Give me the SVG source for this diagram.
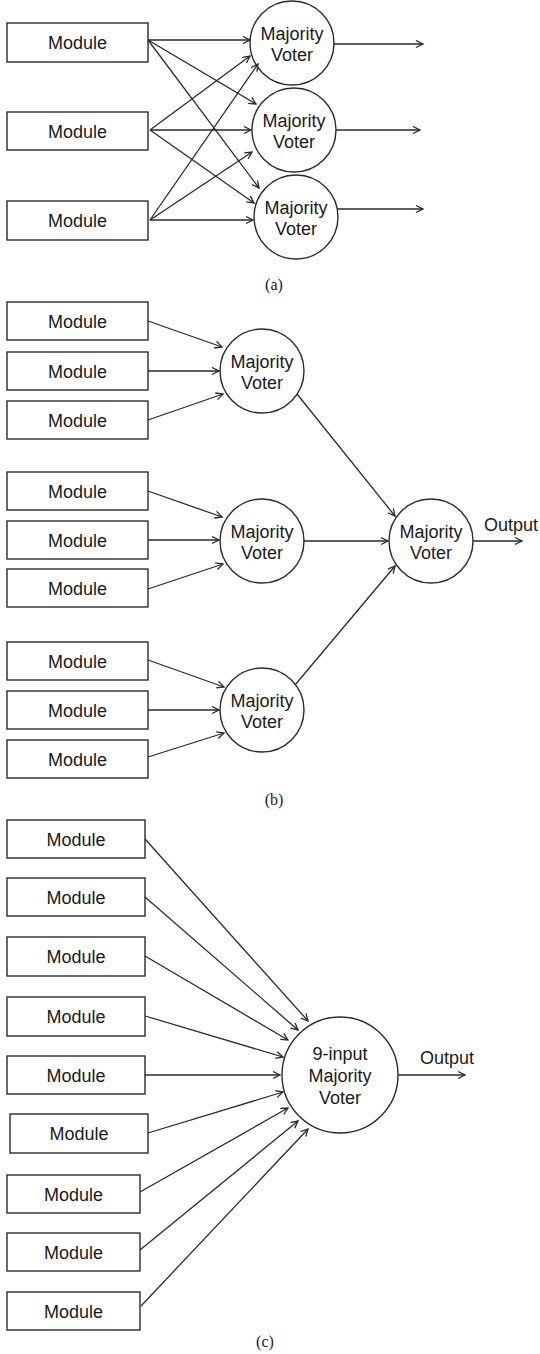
<svg xmlns="http://www.w3.org/2000/svg" width="540" height="1354" viewBox="0 0 540 1354">
<style>
.box{fill:#fff;stroke:#2a2a2a;stroke-width:1.4}
.vot{fill:#fff;stroke:#2a2a2a;stroke-width:1.4}
.t{font-family:"Liberation Sans",Arial,sans-serif;font-size:18px;fill:#1a1a1a;text-anchor:middle}
.tl{font-family:"Liberation Sans",Arial,sans-serif;font-size:18px;fill:#1a1a1a}
.cap{font-family:"Liberation Serif","Times New Roman",serif;font-size:16px;fill:#1a1a1a;text-anchor:middle}
.c line{stroke:#2a2a2a;stroke-width:1.3;fill:none;marker-end:url(#ah)}
</style>
<defs>
<marker id="ah" markerUnits="userSpaceOnUse" markerWidth="10" markerHeight="10" refX="8" refY="4" orient="auto">
<path d="M1,0.5 L8,4 L1,7.5" fill="none" stroke="#2a2a2a" stroke-width="1.3"/>
</marker>
</defs>
<rect width="540" height="1354" fill="#fff"/>

<!-- (a) -->
<g id="a-m1"><rect class="box" x="7" y="23" width="141" height="39"/><text class="t" x="77.5" y="49">Module</text></g>
<g id="a-m2"><rect class="box" x="7" y="112" width="141" height="38"/><text class="t" x="77.5" y="137.5">Module</text></g>
<g id="a-m3"><rect class="box" x="7" y="201" width="141" height="39"/><text class="t" x="77.5" y="227">Module</text></g>
<g id="a-v1"><circle class="vot" cx="292" cy="43" r="42"/><text class="t" x="292" y="39.5">Majority</text><text class="t" x="292" y="60.5">Voter</text></g>
<g id="a-v2"><circle class="vot" cx="294" cy="130" r="42"/><text class="t" x="294" y="126.5">Majority</text><text class="t" x="294" y="147.5">Voter</text></g>
<g id="a-v3"><circle class="vot" cx="296" cy="217" r="42"/><text class="t" x="296" y="213.5">Majority</text><text class="t" x="296" y="234.5">Voter</text></g>
<text class="cap" x="274" y="290">(a)</text>

<!-- (b) -->
<g id="b-m1"><rect class="box" x="7" y="302" width="141" height="38"/><text class="t" x="77.5" y="327.5">Module</text></g>
<g id="b-m2"><rect class="box" x="7" y="352" width="141" height="38"/><text class="t" x="77.5" y="377.5">Module</text></g>
<g id="b-m3"><rect class="box" x="7" y="401" width="141" height="38"/><text class="t" x="77.5" y="426.5">Module</text></g>
<g id="b-m4"><rect class="box" x="7" y="472" width="141" height="38"/><text class="t" x="77.5" y="497.5">Module</text></g>
<g id="b-m5"><rect class="box" x="7" y="521" width="141" height="38"/><text class="t" x="77.5" y="546.5">Module</text></g>
<g id="b-m6"><rect class="box" x="7" y="569" width="141" height="38"/><text class="t" x="77.5" y="594.5">Module</text></g>
<g id="b-m7"><rect class="box" x="7" y="642" width="141" height="38"/><text class="t" x="77.5" y="667.5">Module</text></g>
<g id="b-m8"><rect class="box" x="7" y="691" width="141" height="38"/><text class="t" x="77.5" y="716.5">Module</text></g>
<g id="b-m9"><rect class="box" x="7" y="740" width="141" height="38"/><text class="t" x="77.5" y="765.5">Module</text></g>
<g id="b-v1"><circle class="vot" cx="262" cy="371" r="42"/><text class="t" x="262" y="367.5">Majority</text><text class="t" x="262" y="388.5">Voter</text></g>
<g id="b-v2"><circle class="vot" cx="262" cy="541" r="42"/><text class="t" x="262" y="537.5">Majority</text><text class="t" x="262" y="558.5">Voter</text></g>
<g id="b-v3"><circle class="vot" cx="262" cy="710" r="42"/><text class="t" x="262" y="706.5">Majority</text><text class="t" x="262" y="727.5">Voter</text></g>
<g id="b-vf"><circle class="vot" cx="431" cy="541" r="42"/><text class="t" x="431" y="537.5">Majority</text><text class="t" x="431" y="558.5">Voter</text></g>
<text class="tl" x="484" y="531">Output</text>
<text class="cap" x="274" y="805">(b)</text>

<!-- (c) -->
<g id="c-m1"><rect class="box" x="7" y="820" width="138" height="38"/><text class="t" x="76" y="845.5">Module</text></g>
<g id="c-m2"><rect class="box" x="7" y="878" width="138" height="38"/><text class="t" x="76" y="903.5">Module</text></g>
<g id="c-m3"><rect class="box" x="7" y="937" width="138" height="39"/><text class="t" x="76" y="963">Module</text></g>
<g id="c-m4"><rect class="box" x="7" y="997" width="138" height="39"/><text class="t" x="76" y="1023">Module</text></g>
<g id="c-m5"><rect class="box" x="7" y="1056" width="138" height="38"/><text class="t" x="76" y="1081.5">Module</text></g>
<g id="c-m6"><rect class="box" x="10" y="1114" width="138" height="39"/><text class="t" x="79" y="1140">Module</text></g>
<g id="c-m7"><rect class="box" x="7" y="1175" width="133" height="38"/><text class="t" x="73.5" y="1200.5">Module</text></g>
<g id="c-m8"><rect class="box" x="7" y="1233" width="133" height="38"/><text class="t" x="73.5" y="1258.5">Module</text></g>
<g id="c-m9"><rect class="box" x="7" y="1292" width="133" height="38"/><text class="t" x="73.5" y="1317.5">Module</text></g>
<g id="c-v"><circle class="vot" cx="340" cy="1075" r="58"/><text class="t" x="340" y="1059.5">9-input</text><text class="t" x="340" y="1081.5">Majority</text><text class="t" x="340" y="1103.5">Voter</text></g>
<text class="tl" x="420" y="1064">Output</text>
<text class="cap" x="265" y="1347">(c)</text>

<g id="connectors" class="c">
<!-- (a) -->
<line x1="148" y1="40" x2="250" y2="40"/>
<line x1="148" y1="40" x2="256" y2="104"/>
<line x1="148" y1="40" x2="259" y2="188"/>
<line x1="150" y1="130" x2="250" y2="56"/>
<line x1="150" y1="130" x2="251" y2="130"/>
<line x1="150" y1="130" x2="254" y2="203"/>
<line x1="150" y1="220" x2="258" y2="64"/>
<line x1="150" y1="220" x2="252" y2="152"/>
<line x1="150" y1="220" x2="253" y2="220"/>
<line x1="334" y1="44" x2="423" y2="44"/>
<line x1="336" y1="130" x2="420" y2="130"/>
<line x1="337" y1="209" x2="423" y2="209"/>
<!-- (b) -->
<line x1="148" y1="321" x2="222" y2="347"/>
<line x1="148" y1="371" x2="219" y2="371"/>
<line x1="148" y1="420" x2="223" y2="394"/>
<line x1="148" y1="491" x2="222" y2="517"/>
<line x1="148" y1="540" x2="219" y2="540"/>
<line x1="148" y1="589" x2="223" y2="564"/>
<line x1="148" y1="660" x2="224" y2="687"/>
<line x1="148" y1="710" x2="219" y2="710"/>
<line x1="148" y1="757" x2="224" y2="733"/>
<line x1="297" y1="394" x2="395" y2="516"/>
<line x1="304" y1="541" x2="388" y2="541"/>
<line x1="295" y1="685" x2="395" y2="566"/>
<line x1="473" y1="541" x2="522" y2="541"/>
<!-- (c) -->
<line x1="145" y1="839" x2="308" y2="1021"/>
<line x1="145" y1="897" x2="298" y2="1030"/>
<line x1="145" y1="956" x2="288" y2="1040"/>
<line x1="145" y1="1016" x2="283" y2="1057"/>
<line x1="145" y1="1075" x2="280" y2="1075"/>
<line x1="148" y1="1133" x2="283" y2="1092"/>
<line x1="140" y1="1192" x2="288" y2="1108"/>
<line x1="140" y1="1250" x2="298" y2="1121"/>
<line x1="141" y1="1306" x2="308" y2="1129"/>
<line x1="398" y1="1075" x2="465" y2="1075"/>
</g>
</svg>
